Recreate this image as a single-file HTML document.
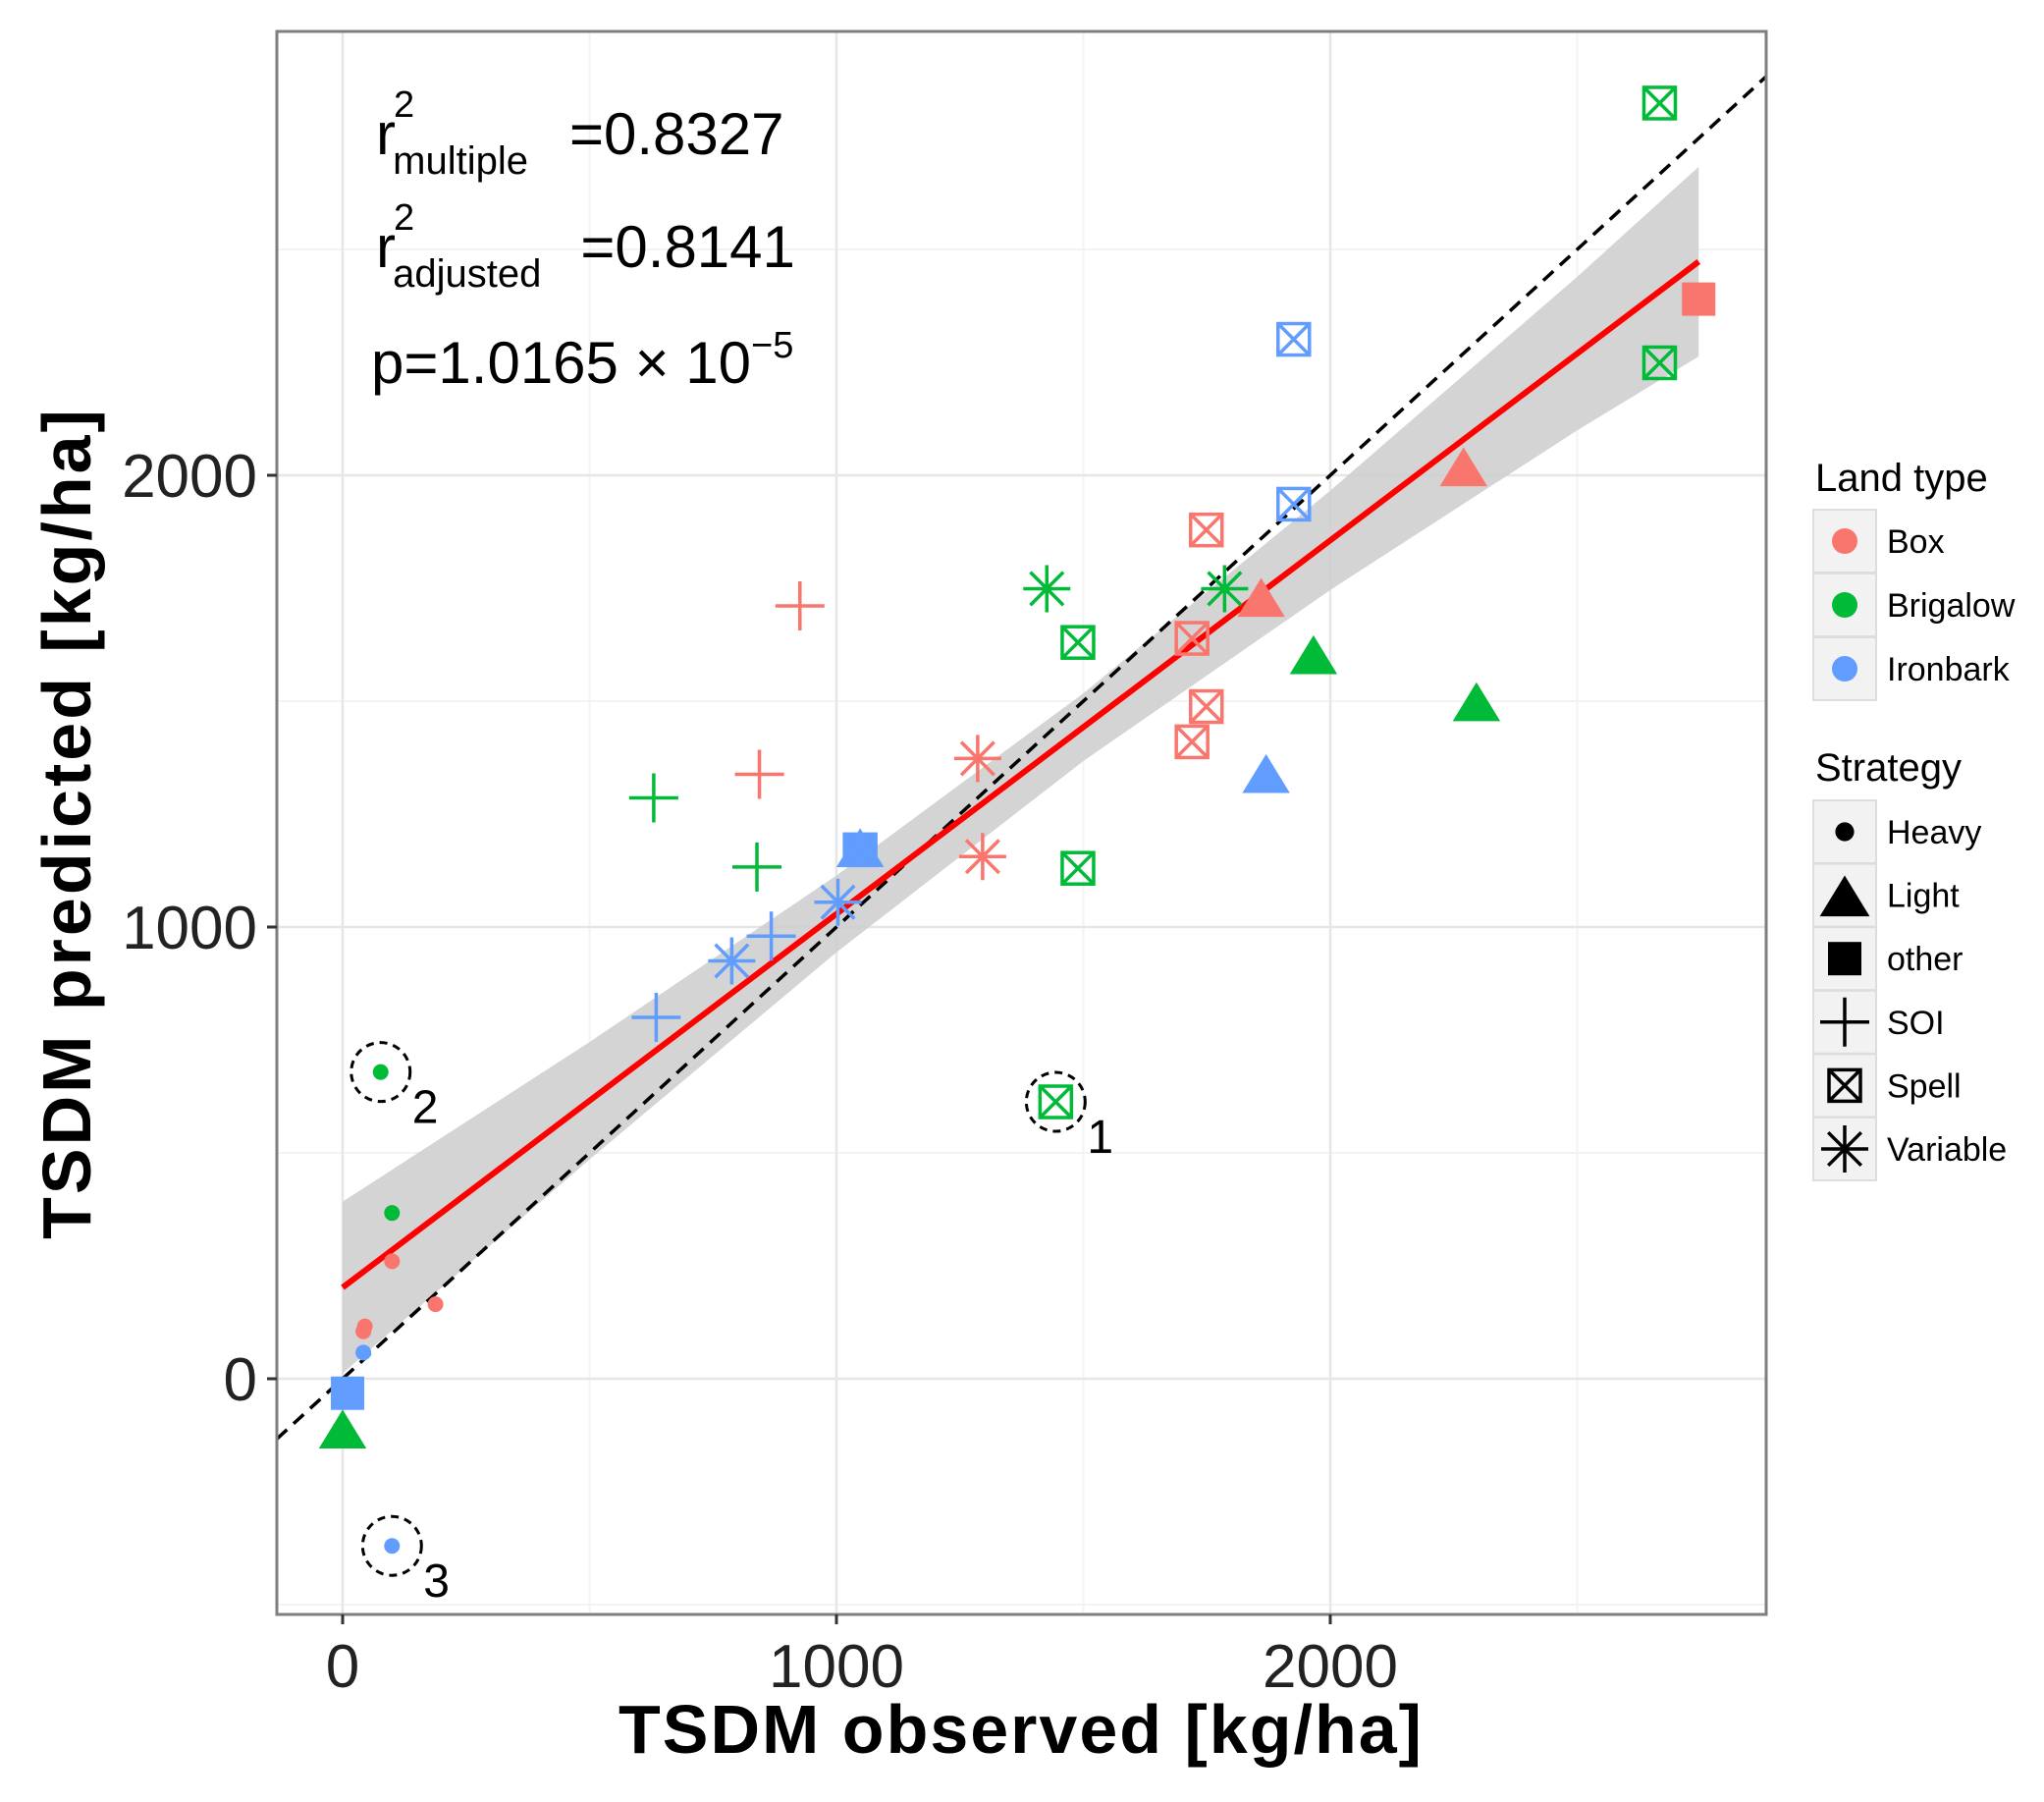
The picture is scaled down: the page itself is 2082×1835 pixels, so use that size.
<!DOCTYPE html>
<html><head><meta charset="utf-8"><style>
body{margin:0;background:#fff;}
svg text{font-family:"Liberation Sans",sans-serif;}
</style></head><body>
<svg id="chart" width="2082" height="1830" viewBox="0 0 2082 1830" xmlns="http://www.w3.org/2000/svg">
<g id="grid"></g>
<g id="band"></g>
<g id="lines"></g>
<g id="pts"></g>
<g id="ann"></g>
<rect x="282" y="32" width="1517" height="1612" fill="none" stroke="#7f7f7f" stroke-width="3"/>
<g id="axes"></g>
<text x="1040" y="1785" font-size="70" font-weight="bold" text-anchor="middle" letter-spacing="2">TSDM observed [kg/ha]</text>
<text transform="translate(92,838) rotate(-90)" font-size="70" font-weight="bold" text-anchor="middle" letter-spacing="3">TSDM predicted [kg/ha]</text>
<g font-size="60">
<text x="383" y="157">r<tspan font-size="38" dy="-38" dx="-2">2</tspan><tspan font-size="40" dy="58" dx="-22">multiple</tspan><tspan dx="42" dy="-20">=0.8327</tspan></text>
<text x="383" y="272">r<tspan font-size="38" dy="-38" dx="-2">2</tspan><tspan font-size="40" dy="58" dx="-22">adjusted</tspan><tspan dx="40" dy="-20">=0.8141</tspan></text>
<text x="378" y="390">p=1.0165 × 10<tspan font-size="38" dy="-26">−5</tspan></text>
</g>
<g id="legend"></g>
</svg>
<script>
const NS='http://www.w3.org/2000/svg';
const xTicks=[0,1000,2000];
const yTicks=[0,1000,2000];
const xMinor=[500,1500,2500];
const yMinor=[-500,500,1500,2500];
const regIntercept=202, regSlope=0.827;
const bandX=[0,500,1000,1500,2000,2500,2746];
const bandHalf=[190,130,85,75,110,170,210];
const colors={Box:'#F8766D',Brigalow:'#00BA38',Ironbark:'#619CFF'};
const boxX=[45,188,100,42,2270,1860,2746,926,844,1749,1720,1749,1720,1286,1296];
const boxY=[116,165,260,105,2014,1725,2390,1711,1338,1879,1639,1488,1410,1373,1156];
const boxS=['Heavy','Heavy','Heavy','Heavy','Light','Light','other','SOI','SOI','Spell','Spell','Spell','Spell','Variable','Variable'];
const briX=[77,100,1966,2296,0,630,839,2667,2667,1489,1489,1444,1426,1786];
const briY=[679,367,1598,1494,-116,1286,1133,2824,2249,1630,1130,613,1749,1749];
const briS=['Heavy','Heavy','Light','Light','Light','SOI','SOI','Spell','Spell','Spell','Spell','Spell','Variable','Variable'];
const ironX=[42,100,1870,1048,10,1048,635,868,1926,1926,1048,788,1003];
const ironY=[58,-370,1335,1171,-32,1171,800,980,2301,1936,1171,925,1055];
const ironS=['Heavy','Heavy','Light','Light','other','other','SOI','SOI','Spell','Spell','Spell','Variable','Variable'];
const outX=[1444,77,100], outY=[613,679,-370], outLabel=['1','2','3'];

const X=v=>349+v*0.503, Y=v=>1404-v*0.46;
const L=282,R=1799,T=32,B=1644;
function mk(tag,attrs,parent){const e=document.createElementNS(NS,tag);for(const k in attrs)e.setAttribute(k,attrs[k]);parent.appendChild(e);return e;}
const grid=document.getElementById('grid');
mk('rect',{x:L,y:T,width:R-L,height:B-T,fill:'#fff'},grid);
xMinor.forEach(v=>mk('line',{x1:X(v),x2:X(v),y1:T,y2:B,stroke:'#f3f3f3','stroke-width':2},grid));
yMinor.forEach(v=>mk('line',{x1:L,x2:R,y1:Y(v),y2:Y(v),stroke:'#f3f3f3','stroke-width':2},grid));
xTicks.forEach(v=>mk('line',{x1:X(v),x2:X(v),y1:T,y2:B,stroke:'#e6e6e6','stroke-width':2.5},grid));
yTicks.forEach(v=>mk('line',{x1:L,x2:R,y1:Y(v),y2:Y(v),stroke:'#e6e6e6','stroke-width':2.5},grid));
const band=document.getElementById('band');
let up=bandX.map((x,i)=>X(x)+','+Y(regIntercept+regSlope*x+bandHalf[i]));
let lo=bandX.map((x,i)=>X(x)+','+Y(regIntercept+regSlope*x-bandHalf[i])).reverse();
const bp=mk('polygon',{points:up.concat(lo).join(' '),fill:'#cccccc','fill-opacity':0.85},band);


const lines=document.getElementById('lines');
const x0=bandX[0], x1=bandX[bandX.length-1];
const dl=mk('line',{x1:L,y1:Y((L-349)/0.503),x2:R,y2:Y((R-349)/0.503),stroke:'#000','stroke-width':3.5,'stroke-dasharray':'14,9'},lines);


const rl=mk('line',{x1:X(x0),y1:Y(regIntercept+regSlope*x0),x2:X(x1),y2:Y(regIntercept+regSlope*x1),stroke:'#ff0000','stroke-width':6},lines);



function shape(g,s,cx,cy,c,sz){
  const f=sz||1;
  if(s==='Heavy')mk('circle',{cx,cy,r:8*f,fill:c},g);
  else if(s==='Light'){const h=22*f;mk('polygon',{points:`${cx},${cy-h} ${cx-h*1.1},${cy+h*0.8} ${cx+h*1.1},${cy+h*0.8}`,fill:c},g);}
  else if(s==='other')mk('rect',{x:cx-17*f,y:cy-17*f,width:34*f,height:34*f,fill:c},g);
  else if(s==='SOI'){const h=25*f;mk('path',{d:`M${cx-h},${cy}H${cx+h}M${cx},${cy-h}V${cy+h}`,stroke:c,'stroke-width':3.5,fill:'none'},g);}
  else if(s==='Spell'){const h=16*f;mk('rect',{x:cx-h,y:cy-h,width:2*h,height:2*h,fill:'none',stroke:c,'stroke-width':3.5},g);mk('path',{d:`M${cx-h},${cy-h}L${cx+h},${cy+h}M${cx+h},${cy-h}L${cx-h},${cy+h}`,stroke:c,'stroke-width':3.5},g);}
  else if(s==='Variable'){const h=24*f,d=h*0.7;mk('path',{d:`M${cx-h},${cy}H${cx+h}M${cx},${cy-h}V${cy+h}M${cx-d},${cy-d}L${cx+d},${cy+d}M${cx+d},${cy-d}L${cx-d},${cy+d}`,stroke:c,'stroke-width':3.5},g);}
}
const pts=document.getElementById('pts');
[[boxX,boxY,boxS,'Box'],[briX,briY,briS,'Brigalow'],[ironX,ironY,ironS,'Ironbark']].forEach(([xs,ys,ss,lt])=>{
  xs.forEach((x,i)=>{const g=mk('g',{},pts);
    
    
    shape(g,ss[i],X(x),Y(ys[i]),colors[lt]);});
});
const ann=document.getElementById('ann');
outX.forEach((x,i)=>{const g=mk('g',{},ann);
  
  
  mk('circle',{cx:X(x),cy:Y(outY[i]),r:30,fill:'none',stroke:'#000','stroke-width':3,'stroke-dasharray':'8,6'},g);
  const t=mk('text',{x:X(x)+32,y:Y(outY[i])+52,'font-size':48},g);t.textContent=outLabel[i];});
const axes=document.getElementById('axes');
xTicks.forEach(v=>{mk('line',{x1:X(v),x2:X(v),y1:B,y2:B+10,stroke:'#333','stroke-width':3},axes);
  const t=mk('text',{x:X(v),y:1718,'font-size':62,'text-anchor':'middle',fill:'#222'},axes);t.textContent=v;
  
  });
yTicks.forEach(v=>{mk('line',{x1:L-10,x2:L,y1:Y(v),y2:Y(v),stroke:'#333','stroke-width':3},axes);
  const t=mk('text',{x:262,y:Y(v)+22,'font-size':62,'text-anchor':'end',fill:'#222'},axes);t.textContent=v;
  
  });
const lg=document.getElementById('legend');
const landTypes=['Box','Brigalow','Ironbark'];
const strategies=['Heavy','Light','other','SOI','Spell','Variable'];
let t=mk('text',{x:1849,y:500,'font-size':40},lg);t.textContent='Land type';
landTypes.forEach((n,i)=>{const cy=551+i*65;const g=mk('g',{},lg);
  
  
  mk('rect',{x:1847,y:cy-32,width:64,height:64,fill:'#f2f2f2',stroke:'#ddd','stroke-width':2},g);
  mk('circle',{cx:1879,cy,r:13,fill:colors[n]},g);
  const tt=mk('text',{x:1922,y:cy+12,'font-size':34},g);tt.textContent=n;});
t=mk('text',{x:1849,y:795,'font-size':40},lg);t.textContent='Strategy';
strategies.forEach((n,i)=>{const cy=847+i*64.6;const g=mk('g',{},lg);
  
  
  mk('rect',{x:1847,y:cy-32,width:64,height:64,fill:'#f2f2f2',stroke:'#ddd','stroke-width':2},g);
  shape(g,n,1879,cy+(n==='Light'?3:0),'#000',n==='Heavy'?1.2:(n==='Light'?1.05:1));
  const tt=mk('text',{x:1922,y:cy+12,'font-size':34},g);tt.textContent=n;});
</script>
</body></html>
